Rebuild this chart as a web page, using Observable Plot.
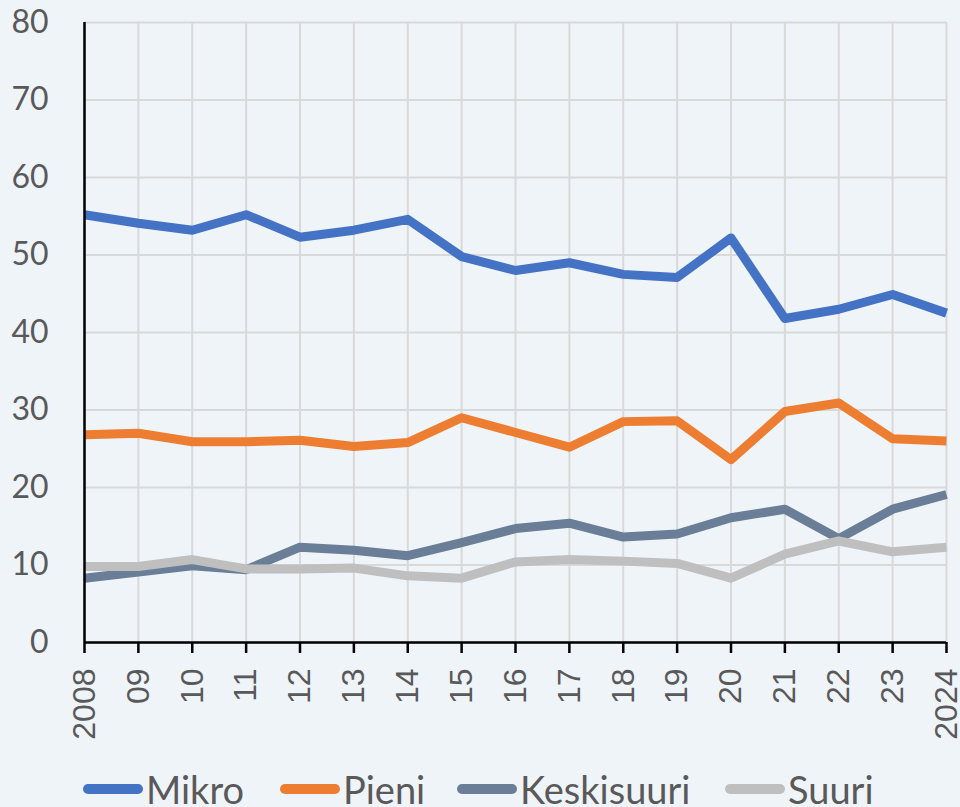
<!DOCTYPE html>
<html>
<head>
<meta charset="utf-8">
<script src="https://cdn.jsdelivr.net/npm/d3@7"></script>
<script src="https://cdn.jsdelivr.net/npm/@observablehq/plot@0.6"></script>
<style>
  html, body { margin: 0; padding: 0; background: #eff4f9; }
  #wrap { width: 960px; height: 807px; overflow: hidden; position: relative; background: #eff4f9; }
  #legend { position: absolute; left: 0; top: 750px; width: 960px; height: 57px; }
  .item { position: absolute; top: 0; height: 57px; display: flex; align-items: center; }
  .sw { width: 60px; height: 10px; border-radius: 5px; margin-right: 3px; margin-top: 20px; }
  .lb { font-family: Lato, "Open Sans", sans-serif; font-size: 38px; color: #595959; line-height: 38px; margin-top: 20px; }
</style>
</head>
<body>
<div id="wrap">
  <div id="chart"></div>
  <div id="legend"></div>
</div>
<script>
const years = [2008, 2009, 2010, 2011, 2012, 2013, 2014, 2015, 2016, 2017, 2018, 2019, 2020, 2021, 2022, 2023, 2024];
const xTickLabels = ["2008", "09", "10", "11", "12", "13", "14", "15", "16", "17", "18", "19", "20", "21", "22", "23", "2024"];
const yTicks = [0, 10, 20, 30, 40, 50, 60, 70, 80];

const mikro      = [55.2, 54.1, 53.2, 55.2, 52.3, 53.2, 54.6, 49.8, 48.0, 49.0, 47.5, 47.1, 52.2, 41.8, 43.0, 44.9, 42.5];
const pieni      = [26.8, 27.0, 25.9, 25.9, 26.1, 25.3, 25.8, 29.0, 27.1, 25.2, 28.5, 28.6, 23.6, 29.8, 30.9, 26.3, 26.0];
const keskisuuri = [8.3, 9.1, 9.9, 9.4, 12.3, 11.9, 11.2, 12.9, 14.7, 15.4, 13.6, 14.0, 16.1, 17.2, 13.4, 17.2, 19.1];
const suuri      = [9.8, 9.8, 10.7, 9.5, 9.5, 9.6, 8.6, 8.3, 10.4, 10.7, 10.5, 10.2, 8.3, 11.4, 13.1, 11.7, 12.3];

const seriesNames = ["Mikro", "Pieni", "Keskisuuri", "Suuri"];
const seriesColors = ["#4472c4", "#ed7d31", "#6a7e98", "#bfbfbf"];
const seriesValues = [mikro, pieni, keskisuuri, suuri];

const data = [];
seriesValues.forEach((arr, i) => arr.forEach((v, j) => data.push({year: years[j], value: v, series: seriesNames[i]})));

const labelOf = new Map(years.map((y, i) => [y, xTickLabels[i]]));

const chart = Plot.plot({
  width: 960,
  height: 750,
  marginLeft: 84,
  marginRight: 14,
  marginTop: 22,
  marginBottom: 108,
  style: { background: "transparent", overflow: "visible" },
  x: { domain: [2008, 2024], label: null },
  y: { domain: [0, 80], label: null },
  color: { domain: seriesNames, range: seriesColors },
  marks: [
    Plot.gridX(years, { stroke: "#d9d9d9", strokeOpacity: 1, strokeWidth: 2 }),
    Plot.gridY(yTicks, { stroke: "#d9d9d9", strokeOpacity: 1, strokeWidth: 2 }),
    Plot.line(data, { x: "year", y: "value", stroke: "series", z: "series", strokeWidth: 9, strokeLinecap: "butt", strokeLinejoin: "round" }),
    Plot.ruleX([2008], { stroke: "#000", strokeWidth: 2.5 }),
    Plot.ruleY([0], { stroke: "#000", strokeWidth: 2.5 }),
    Plot.axisY(yTicks, { label: null, tickSize: 0, tickPadding: 36, fontSize: 32, fill: "#595959", fontFamily: "Lato, 'Open Sans', sans-serif" }),
    Plot.axisX(years, { label: null, tickSize: 11, tickPadding: 15, tickRotate: -90, tickFormat: d => labelOf.get(d), fontSize: 32, stroke: "#000", strokeWidth: 2.5, fill: "#595959", fontFamily: "'Liberation Sans', Arial, sans-serif" })
  ]
});
document.getElementById("chart").appendChild(chart);

const legendPos = [83, 280, 457, 725];
const legend = document.getElementById("legend");
seriesNames.forEach((name, i) => {
  const item = document.createElement("div");
  item.className = "item";
  item.style.left = legendPos[i] + "px";
  const sw = document.createElement("div");
  sw.className = "sw";
  sw.style.background = seriesColors[i];
  const lb = document.createElement("span");
  lb.className = "lb";
  lb.textContent = name;
  item.appendChild(sw);
  item.appendChild(lb);
  legend.appendChild(item);
});
</script>
</body>
</html>
